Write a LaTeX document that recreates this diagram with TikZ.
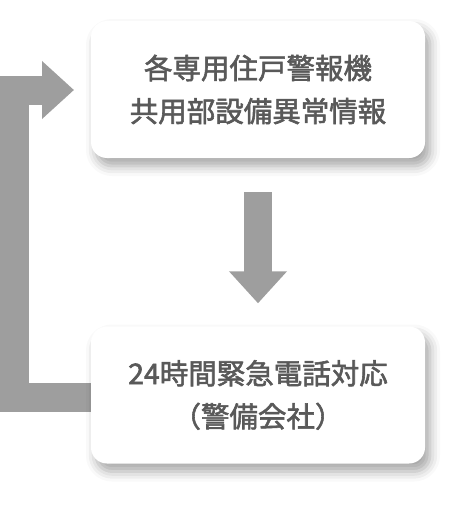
\documentclass[tikz,border=0pt]{standalone}
\usepackage{fontspec}
\newfontfamily\jp[FakeBold=2]{Noto Sans CJK JP}
\usetikzlibrary{shadows.blur,arrows.meta}
\definecolor{arrowgray}{HTML}{9E9E9E}
\definecolor{textgray}{HTML}{595959}
\begin{document}
\begin{tikzpicture}[x=1pt,y=1pt,
  card/.style={fill=white, rounded corners=16pt, minimum width=334pt, minimum height=137pt,
    align=center, text=textgray, font=\jp\fontsize{28.5}{43}\selectfont,
    blur shadow={shadow xshift=5pt, shadow yshift=-8pt, shadow blur radius=10pt, shadow opacity=35}},
  bigarrow/.style={draw=arrowgray, line width=29pt, line join=miter,
    -{Triangle[width=56pt,length=32pt]}}
]
\useasboundingbox (0,0) rectangle (466,-506);
\coordinate (cornerB) at (14.5,-397);
\coordinate (cornerT) at (14.5,-90);
\coordinate (loopstart) at (120,-397);
\draw[bigarrow] (loopstart) -- (cornerB) -- (cornerT) -- (74,-90);
\node[card] (top) at (258,-89.5) {各専用住戸警報機\\共用部設備異常情報};
\node[card] (bot) at (258,-395) {24時間緊急電話対応\\（警備会社）};
\draw[bigarrow, line width=28pt] ([yshift=-34pt]top.south) -- ([yshift=23pt]bot.north);
\end{tikzpicture}
\end{document}
